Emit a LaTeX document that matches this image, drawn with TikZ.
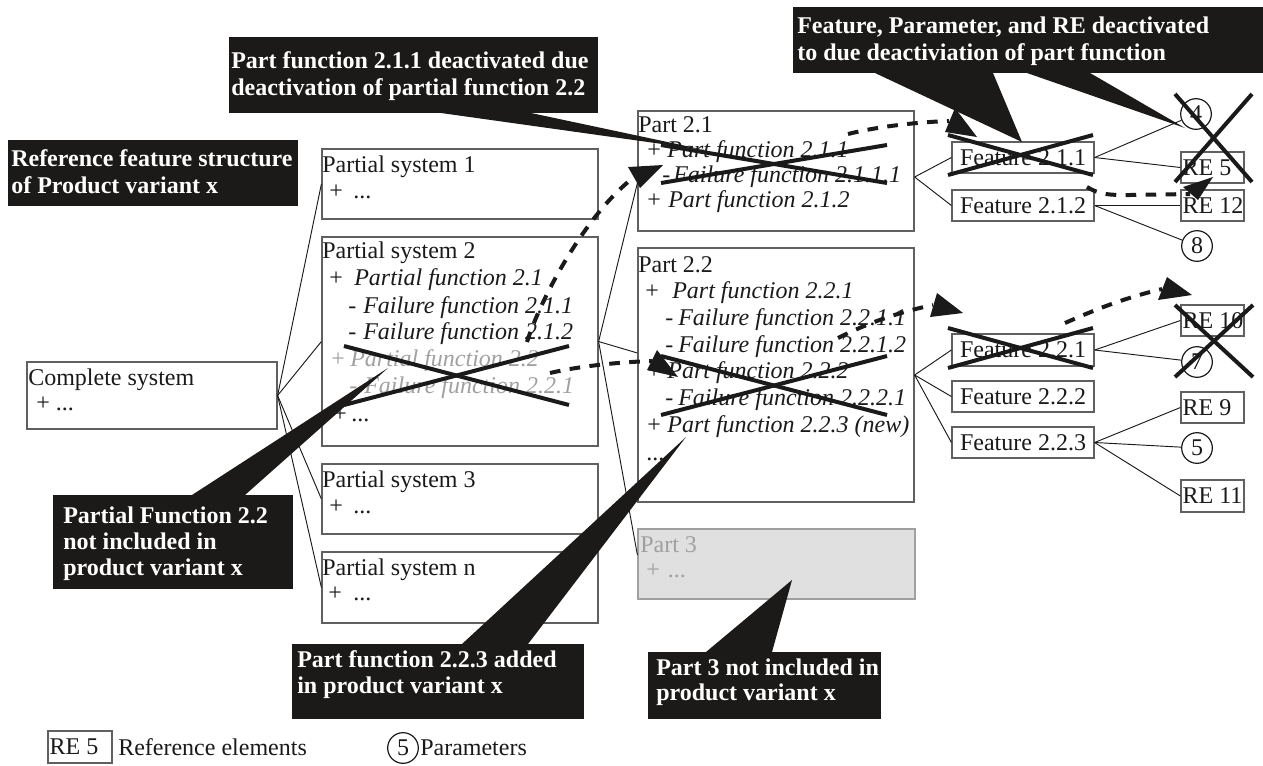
\documentclass[tikz,border=0pt]{standalone}
\usepackage{fontspec}
\setmainfont{Liberation Serif}
\usetikzlibrary{fit,calc}
\definecolor{cal}{HTML}{1C1A18}
\definecolor{bord}{HTML}{606060}
\definecolor{ink}{HTML}{1A1A1A}
\definecolor{faded}{HTML}{A0A0A0}
\definecolor{grayfill}{HTML}{E0E0E0}
\newcommand\fs{\fontsize{18pt}{20pt}\selectfont}
\begin{document}
\begin{tikzpicture}[x=0.75pt,y=-0.75pt,
  box/.style={draw=bord, line width=0.9pt, inner sep=0pt},
  txt/.style={inner sep=0pt, anchor=base west, font=\fs, text=ink},
  gtxt/.style={inner sep=0pt, anchor=base west, font=\fs, text=faded},
  ctxt/.style={inner sep=0pt, anchor=base west, font=\fs\bfseries, text=white},
  callout/.style={fill=cal, inner sep=0pt},
  thinline/.style={draw=ink, line width=0.7pt},
  cross/.style={draw=ink, line width=3pt},
  dasharrow/.style={draw=ink, line width=3pt, dash pattern=on 8pt off 7pt},
  head/.style={fill=ink},
  wedge/.style={fill=cal},
  ctr/.style={inner sep=0pt, anchor=center, font=\fs, text=ink},
  lft/.style={inner sep=0pt, anchor=west, font=\fs, text=ink, xshift=1.5pt},
  param/.style={circle, draw=ink, line width=0.9pt, inner sep=0pt, minimum size=23pt, font=\fs, text=ink}
]
\useasboundingbox (0,0) rectangle (1263,765);
\fill[white] (0,0) rectangle (1263,765);

% ---------- callouts ----------
\node[callout, fit={(229,37)(598,113)}] (ca) {};
\node[callout, fit={(8,140)(298,206)}] (cb) {};
\node[callout, fit={(53,495)(293,589)}] (cc) {};
\node[callout, fit={(292,644)(584,719)}] (cd) {};
\node[callout, fit={(648,652)(881,719)}] (ce) {};
\node[callout, fit={(793,7)(1263,73)}] (cf) {};
\node[ctxt] (ca1) at (231,68) {Part function 2.1.1 deactivated due};
\node[ctxt] (ca2) at (231,95) {deactivation of partial function 2.2};
\node[ctxt] (cb1) at (11,166) {Reference feature structure};
\node[ctxt] (cb2) at (11,193) {of Product variant x};
\node[ctxt] (cc1) at (63,523) {Partial Function 2.2};
\node[ctxt] (cc2) at (63,549) {not included in};
\node[ctxt] (cc3) at (63,575) {product variant x};
\node[ctxt] (cd1) at (297,667) {Part function 2.2.3 added};
\node[ctxt] (cd2) at (297,693) {in product variant x};
\node[ctxt] (ce1) at (656,675) {Part 3 not included in};
\node[ctxt] (ce2) at (656,700) {product variant x};
\node[ctxt] (cf1) at (797,33) {Feature, Parameter, and RE deactivated};
\node[ctxt] (cf2) at (797,60) {to due deactiviation of part function};

% ---------- boxes ----------
\node[box, fit={(27,362)(277,429)}] (cs) {};
\node[box, fit={(322,149)(598,219)}] (ps1) {};
\node[box, fit={(322,237)(598,446)}] (ps2) {};
\node[box, fit={(322,464)(598,534)}] (ps3) {};
\node[box, fit={(322,552)(598,623)}] (psn) {};
\node[box, fit={(638,111)(914,231)}] (p21) {};
\node[box, fit={(638,248)(914,502)}] (p22) {};
\node[box, draw=faded, fill=grayfill, fit={(638,529)(915,599)}] (p3) {};

\node[txt] (cst1) at (28,385) {Complete system};
\node[txt] (cst2) at (36,410) {+\hspace{4.5pt}...};

\node[txt] (ps1t1) at (322,172) {Partial system 1};
\node[txt] (ps1t2) at (329,198) {+\hspace{7.9pt}...};

\node[txt] (ps2t1) at (322,258) {Partial system 2};
\node[txt] (ps2t2) at (329,285) {+\hspace{8.6pt}\textit{Partial function 2.1}};
\node[txt] (ps2t3) at (348,313) {-\hspace{5.3pt}\textit{Failure function 2.1.1}};
\node[txt] (ps2t4) at (348,339) {-\hspace{5.3pt}\textit{Failure function 2.1.2}};
\node[gtxt] (ps2t5) at (331,366) {+\hspace{4.1pt}\textit{Partial function 2.2}};
\node[gtxt] (ps2t6) at (349,393) {-\hspace{5.3pt}\textit{Failure function 2.2.1}};
\node[txt] (ps2t7) at (333,421) {+\hspace{3.4pt}...};

\node[txt] (ps3t1) at (322,487) {Partial system 3};
\node[txt] (ps3t2) at (329,513) {+\hspace{7.9pt}...};

\node[txt] (psnt1) at (322,575) {Partial system n};
\node[txt] (psnt2) at (328,600) {+\hspace{8.6pt}...};

\node[txt] (p21t1) at (638,132) {Part 2.1};
\node[txt] (p21t2) at (647,157) {+\hspace{4.9pt}\textit{Part function 2.1.1}};
\node[txt] (p21t3) at (662,182) {-\hspace{2.3pt}\textit{Failure function 2.1.1.1}};
\node[txt] (p21t4) at (647,207) {+\hspace{5.6pt}\textit{Part function 2.1.2}};

\node[txt] (p22t1) at (638,272) {Part 2.2};
\node[txt] (p22t2) at (645,298) {+\hspace{10.1pt}\textit{Part function 2.2.1}};
\node[txt] (p22t3) at (665,325) {-\hspace{3.75pt}\textit{Failure function 2.2.1.1}};
\node[txt] (p22t4) at (665,352) {-\hspace{3.75pt}\textit{Failure function 2.2.1.2}};
\node[txt] (p22t5) at (647,378) {+\hspace{4.9pt}\textit{Part function 2.2.2}};
\node[txt] (p22t6) at (665,405) {-\hspace{3.75pt}\textit{Failure function 2.2.2.1}};
\node[txt] (p22t7) at (647,432) {+\hspace{4.9pt}\textit{Part function 2.2.3 (new)}};
\node[txt] (p22t8) at (646,460) {...};

\node[gtxt] (p3t1) at (640,552) {Part 3};
\node[gtxt] (p3t2) at (646,577) {+\hspace{6pt}...};

% features
\node[box, fit={(952,142)(1094,173)}] (f211) {};
\node[box, fit={(952,190)(1094,221)}] (f212) {};
\node[box, fit={(952,334)(1094,366)}] (f221) {};
\node[box, fit={(952,381)(1094,412)}] (f222) {};
\node[box, fit={(952,427)(1094,458)}] (f223) {};
\node[ctr] (f211t) at (f211.center) {Feature 2.1.1};
\node[ctr] (f212t) at (f212.center) {Feature 2.1.2};
\node[ctr] (f221t) at (f221.center) {Feature 2.2.1};
\node[ctr] (f222t) at (f222.center) {Feature 2.2.2};
\node[ctr] (f223t) at (f223.center) {Feature 2.2.3};

% reference elements
\node[box, fit={(1181,152)(1244,183)}] (re5) {};
\node[box, fit={(1181,190)(1244,221)}] (re12) {};
\node[box, fit={(1181,305)(1244,336)}] (re10) {};
\node[box, fit={(1181,392)(1244,423)}] (re9) {};
\node[box, fit={(1181,480)(1244,512)}] (re11) {};
\node[lft] (re5t) at (re5.west) {RE 5};
\node[lft] (re12t) at (re12.west) {RE 12};
\node[lft] (re10t) at (re10.west) {RE 10};
\node[lft] (re9t) at (re9.west) {RE 9};
\node[lft] (re11t) at (re11.west) {RE 11};

% parameters
\node[param] (c4) at (1196,114) {4};
\node[param] (c8) at (1197,246) {8};
\node[param] (c7) at (1197,362) {7};
\node[param] (c5) at (1197,448) {5};

% legend
\node[box, fit={(48,731)(112,763)}] (lre) {};
\node[lft] (lret) at (lre.west) {RE 5};
\node[txt] (lre2) at (118,755) {Reference elements};
\node[param] (lc) at (403,748) {5};
\node[txt] (lc2) at (420,755) {Parameters};

% ---------- thin connectors ----------
\draw[thinline] (cs.east) -- (ps1.west);
\draw[thinline] (cs.east) -- (ps2.west);
\draw[thinline] (cs.east) -- (ps3.west);
\draw[thinline] (cs.east) -- (psn.west);
\draw[thinline] (ps2.east) -- ([yshift=-9pt]p21.west);
\draw[thinline] (ps2.east) -- ([yshift=16.5pt]p22.west);
\draw[thinline] (ps2.east) -- ([yshift=6.75pt]p3.west);
\draw[thinline] ([yshift=-4.5pt]p21.east) -- (f211.west);
\draw[thinline] ([yshift=-4.5pt]p21.east) -- (f212.west);
\draw[thinline] (p22.east) -- (f221.west);
\draw[thinline] (p22.east) -- (f222.west);
\draw[thinline] (p22.east) -- (f223.west);
\draw[thinline] (f211.east) -- (c4);
\draw[thinline] (f211.east) -- (re5.west);
\draw[thinline] (f212.east) -- (re12.west);
\draw[thinline] (f212.east) -- (c8);
\draw[thinline] (f221.east) -- (re10.west);
\draw[thinline] (f221.east) -- (c7);
\draw[thinline] (f223.east) -- (re9.west);
\draw[thinline] (f223.east) -- (c5);
\draw[thinline] (f223.east) -- (re11.west);

% ---------- crossings ----------
\draw[cross] (344,346) -- (569,405);
\draw[cross] (344,405) -- (569,346);
\draw[cross] (661,145) -- (887,183);
\draw[cross] (661,183) -- (887,145);
\draw[cross] (661,356) -- (887,415);
\draw[cross] (661,415) -- (887,356);
\draw[cross] (948,135) -- (1093,175);
\draw[cross] (948,175) -- (1093,135);
\draw[cross] (948,328) -- (1093,368);
\draw[cross] (948,368) -- (1093,328);
\draw[cross] (1175,94) -- (1252,182);
\draw[cross] (1252,94) -- (1175,182);
\draw[cross] (1175,305) -- (1253,377);
\draw[cross] (1253,305) -- (1175,377);

% ---------- callout pointers ----------
\fill[wedge] (441,113) -- (531,113) -- (705,150) -- cycle;
\fill[wedge] (192,495) -- (245,495) -- (388,368) -- cycle;
\fill[wedge] (462,644) -- (528,644) -- (686,437) -- cycle;
\fill[wedge] (706,652) -- (772,652) -- (792,580) -- cycle;
\fill[wedge] (875,73) -- (993,73) -- (1022,142) -- cycle;
\fill[wedge] (1027,73) -- (1090,73) -- (1185,128) -- cycle;

% ---------- dashed arrows ----------
\coordinate (a1s) at (527,342); \coordinate (a1e) at (633,178);
\coordinate (a2s) at (848,134); \coordinate (a2e) at (949,121);
\coordinate (a3s) at (1087,187); \coordinate (a3e) at (1190,194);
\coordinate (a4s) at (550,373); \coordinate (a4e) at (652,361);
\coordinate (a5s) at (838,338); \coordinate (a5e) at (933,305);
\coordinate (a6s) at (1065,323); \coordinate (a6e) at (1162,289);
\draw[dasharrow] (a1s) .. controls (540,300) and (585,215) .. (a1e);
\draw[dasharrow] (a2s) .. controls (880,126) and (920,122) .. (a2e);
\draw[dasharrow] (a3s) .. controls (1100,195) and (1110,195) .. (1130,195) -- (a3e);
\draw[dasharrow] (a4s) .. controls (580,366) and (620,362) .. (a4e);
\draw[dasharrow] (a5s) .. controls (860,327) and (890,314) .. (a5e);
\draw[dasharrow] (a6s) .. controls (1090,312) and (1120,299) .. (a6e);
\fill[head] (628,167) -- (663,165) -- (640,188) -- cycle;
\fill[head] (955,108) -- (977,137) -- (945,132) -- cycle;
\fill[head] (1183,187) -- (1213,177) -- (1198,200) -- cycle;
\fill[head] (657,350) -- (678,377) -- (647,370) -- cycle;
\fill[head] (937,293) -- (963,313) -- (930,317) -- cycle;
\fill[head] (1167,277) -- (1192,295) -- (1158,300) -- cycle;
\end{tikzpicture}
\end{document}
